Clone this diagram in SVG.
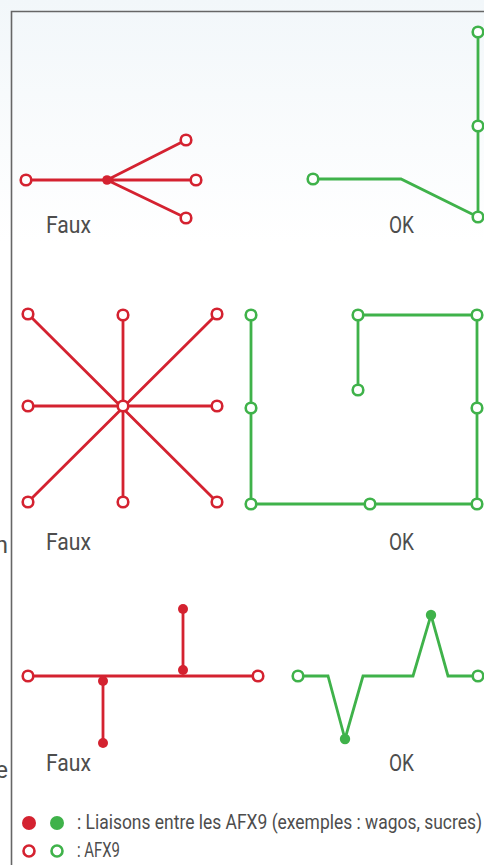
<svg xmlns="http://www.w3.org/2000/svg" width="484" height="865" viewBox="0 0 484 865">
<defs>
<linearGradient id="bg" x1="0" y1="0" x2="0" y2="1" gradientUnits="objectBoundingBox">
<stop offset="0" stop-color="#f2f7fa"/>
<stop offset="0.28" stop-color="#ffffff"/>
<stop offset="1" stop-color="#ffffff"/>
</linearGradient>
</defs>
<style>
.r{stroke:#d42230;stroke-width:2.8;fill:none;stroke-linejoin:miter}
.g{stroke:#3fb24a;stroke-width:2.8;fill:none;stroke-linejoin:miter}
.ro{stroke:#d42230;stroke-width:2.6;fill:#fff}
.go{stroke:#3fb24a;stroke-width:2.6;fill:#fff}
.rf{fill:#d42230}
.gf{fill:#3fb24a}
.lbl{font-family:"Roboto","Liberation Sans",sans-serif;font-size:24px;fill:#4d4d4d}
.leg{font-family:"Roboto","Liberation Sans",sans-serif;font-size:21px;fill:#4d4d4d}
</style>
<rect x="0" y="0" width="484" height="865" fill="url(#bg)"/>
<path d="M11.5 865 V11.5 H484" fill="none" stroke="#666" stroke-width="1.6"/>
<text class="lbl" x="8" y="553" text-anchor="end">n</text>
<text class="lbl" x="8" y="778" text-anchor="end">e</text>

<g id="connectors">
<path class="r" d="M26 180 H196 M107 180 L186 140 M107 180 L186 218"/>
<path class="g" d="M313 179 H401 L478 217 M478 32 V217"/>
<path class="r" d="M28 314 L217 502 M217 314 L28 502 M123 315 V502 M28 406 H217"/>
<path class="g" d="M251 315 V504 H477 V315 H358 V390"/>
<path class="r" d="M28 676 H258 M103 681 V743 M183 670 V609"/>
<path class="g" d="M298 676 H328 L345 739 L363 676 H413 L431 615 L448 676 H478"/>
</g>

<g id="panel-faux-1">
<circle class="ro" cx="26" cy="180" r="5.3"/>
<circle class="rf" cx="107" cy="180" r="4.8"/>
<circle class="ro" cx="186" cy="140" r="5.3"/>
<circle class="ro" cx="196" cy="180" r="5.3"/>
<circle class="ro" cx="186" cy="218" r="5.3"/>
<text class="lbl" x="46" y="233" textLength="45" lengthAdjust="spacingAndGlyphs">Faux</text>
</g>

<g id="panel-ok-1">
<circle class="go" cx="313" cy="179" r="5.3"/>
<circle class="go" cx="478" cy="32" r="5.3"/>
<circle class="go" cx="478" cy="126" r="5.3"/>
<circle class="go" cx="478" cy="217" r="5.3"/>
<text class="lbl" x="389" y="233" textLength="25" lengthAdjust="spacingAndGlyphs">OK</text>
</g>

<g id="panel-faux-2">
<circle class="ro" cx="28" cy="314" r="5.3"/>
<circle class="ro" cx="123" cy="315" r="5.3"/>
<circle class="ro" cx="217" cy="314" r="5.3"/>
<circle class="ro" cx="28" cy="406" r="5.3"/>
<circle class="ro" cx="123" cy="406" r="5.3"/>
<circle class="ro" cx="217" cy="406" r="5.3"/>
<circle class="ro" cx="28" cy="502" r="5.3"/>
<circle class="ro" cx="123" cy="502" r="5.3"/>
<circle class="ro" cx="217" cy="502" r="5.3"/>
<text class="lbl" x="46" y="550" textLength="45" lengthAdjust="spacingAndGlyphs">Faux</text>
</g>

<g id="panel-ok-2">
<circle class="go" cx="251" cy="315" r="5.3"/>
<circle class="go" cx="251" cy="408" r="5.3"/>
<circle class="go" cx="251" cy="504" r="5.3"/>
<circle class="go" cx="370" cy="504" r="5.3"/>
<circle class="go" cx="477" cy="504" r="5.3"/>
<circle class="go" cx="477" cy="408" r="5.3"/>
<circle class="go" cx="477" cy="315" r="5.3"/>
<circle class="go" cx="358" cy="315" r="5.3"/>
<circle class="go" cx="358" cy="390" r="5.3"/>
<text class="lbl" x="389" y="550" textLength="25" lengthAdjust="spacingAndGlyphs">OK</text>
</g>

<g id="panel-faux-3">
<circle class="ro" cx="28" cy="676" r="5.3"/>
<circle class="ro" cx="258" cy="676" r="5.3"/>
<circle class="rf" cx="103" cy="681" r="5"/>
<circle class="rf" cx="103" cy="743" r="5"/>
<circle class="rf" cx="183" cy="670" r="5"/>
<circle class="rf" cx="183" cy="609" r="5"/>
<text class="lbl" x="46" y="771" textLength="45" lengthAdjust="spacingAndGlyphs">Faux</text>
</g>

<g id="panel-ok-3">
<circle class="go" cx="298" cy="676" r="5.3"/>
<circle class="go" cx="478" cy="676" r="5.3"/>
<circle class="gf" cx="345" cy="739" r="5.2"/>
<circle class="gf" cx="431" cy="615" r="5.2"/>
<text class="lbl" x="389" y="771" textLength="25" lengthAdjust="spacingAndGlyphs">OK</text>
</g>

<g id="legend">
<circle class="rf" cx="29" cy="823" r="7"/>
<circle class="gf" cx="57" cy="823" r="7"/>
<text class="leg" x="77" y="829" textLength="405" lengthAdjust="spacingAndGlyphs">: Liaisons entre les AFX9 (exemples : wagos, sucres)</text>
<circle class="ro" cx="29" cy="851" r="5.5" stroke-width="3"/>
<circle class="go" cx="57" cy="851" r="5.5" stroke-width="3"/>
<text class="leg" x="77" y="857" textLength="43" lengthAdjust="spacingAndGlyphs">: AFX9</text>
</g>
</svg>
